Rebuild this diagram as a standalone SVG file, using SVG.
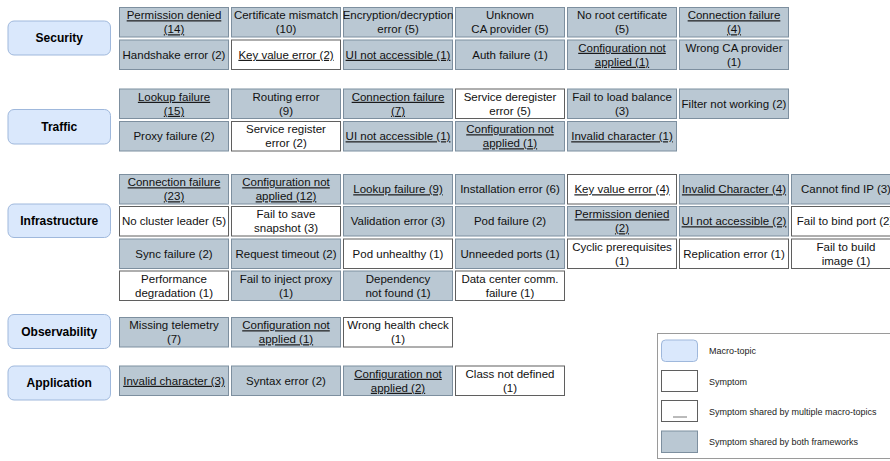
<svg xmlns="http://www.w3.org/2000/svg" width="890" height="461" viewBox="0 0 890 461">
  <style>
    .macro rect { fill: #dae8fc; stroke: #9fb8dc; stroke-width: 1; }
    .macro text { font-family: "Liberation Sans", Arial, sans-serif; font-size: 12px; font-weight: bold; text-anchor: middle; fill: #000; }
    .sym rect { stroke-width: 1; }
    .gray rect { fill: #bac8d3; stroke: #7d8f9f; }
    .white rect { fill: #ffffff; stroke: #5f5f5f; }
    .sym text { font-family: "Liberation Sans", Arial, sans-serif; font-size: 11.5px; text-anchor: middle; fill: #111; }
    .u { text-decoration: underline; }
    .legend text { font-family: "Liberation Sans", Arial, sans-serif; font-size: 9px; fill: #222; }
  </style>
  <rect width="890" height="461" fill="#ffffff"/>

  <!-- Macro-topics -->
  <g id="security" class="macro"><rect x="8" y="21" width="102.5" height="34" rx="6"/><text x="59.25" y="42.3">Security</text></g>
  <g id="traffic" class="macro"><rect x="8" y="109.5" width="102.5" height="34.5" rx="6"/><text x="59.25" y="131">Traffic</text></g>
  <g id="infrastructure" class="macro"><rect x="8" y="204" width="102.5" height="33.5" rx="6"/><text x="59.25" y="225">Infrastructure</text></g>
  <g id="observability" class="macro"><rect x="8" y="314.5" width="102.5" height="34" rx="6"/><text x="59.25" y="335.8">Observability</text></g>
  <g id="application" class="macro"><rect x="8" y="366" width="102.5" height="34" rx="6"/><text x="59.25" y="387.3">Application</text></g>

  <!-- Security symptoms -->
  <g id="sec-permission-denied" class="sym gray"><rect x="119.5" y="7.5" width="109" height="29.5"/><text class="u"><tspan x="174" y="19.3">Permission denied</tspan><tspan x="174" y="33.3">(14)</tspan></text></g>
  <g id="sec-certificate-mismatch" class="sym gray"><rect x="231.5" y="7.5" width="109" height="29.5"/><text><tspan x="286" y="19.3">Certificate mismatch</tspan><tspan x="286" y="33.3">(10)</tspan></text></g>
  <g id="sec-encryption-error" class="sym gray"><rect x="343.5" y="7.5" width="109" height="29.5"/><text><tspan x="398" y="19.3">Encryption/decryption</tspan><tspan x="398" y="33.3">error (5)</tspan></text></g>
  <g id="sec-unknown-ca" class="sym gray"><rect x="455.5" y="7.5" width="109" height="29.5"/><text><tspan x="510" y="19.3">Unknown</tspan><tspan x="510" y="33.3">CA provider (5)</tspan></text></g>
  <g id="sec-no-root-cert" class="sym gray"><rect x="567.5" y="7.5" width="109" height="29.5"/><text><tspan x="622" y="19.3">No root certificate</tspan><tspan x="622" y="33.3">(5)</tspan></text></g>
  <g id="sec-connection-failure" class="sym gray"><rect x="679.5" y="7.5" width="109" height="29.5"/><text class="u"><tspan x="734" y="19.3">Connection failure</tspan><tspan x="734" y="33.3">(4)</tspan></text></g>

  <g id="sec-handshake-error" class="sym gray"><rect x="119.5" y="40" width="109" height="29.5"/><text x="174" y="58.8">Handshake error (2)</text></g>
  <g id="sec-key-value-error" class="sym white"><rect x="231.5" y="40" width="109" height="29.5"/><text class="u" x="286" y="58.8">Key value error (2)</text></g>
  <g id="sec-ui-not-accessible" class="sym gray"><rect x="343.5" y="40" width="109" height="29.5"/><text class="u" x="398" y="58.8">UI not accessible (1)</text></g>
  <g id="sec-auth-failure" class="sym gray"><rect x="455.5" y="40" width="109" height="29.5"/><text x="510" y="58.8">Auth failure (1)</text></g>
  <g id="sec-config-not-applied" class="sym gray"><rect x="567.5" y="40" width="109" height="29.5"/><text class="u"><tspan x="622" y="51.8">Configuration not</tspan><tspan x="622" y="65.8">applied (1)</tspan></text></g>
  <g id="sec-wrong-ca" class="sym gray"><rect x="679.5" y="40" width="109" height="29.5"/><text><tspan x="734" y="51.8">Wrong CA provider</tspan><tspan x="734" y="65.8">(1)</tspan></text></g>

  <!-- Traffic symptoms -->
  <g id="tra-lookup-failure" class="sym gray"><rect x="119.5" y="89" width="109" height="29.5"/><text class="u"><tspan x="174" y="100.8">Lookup failure</tspan><tspan x="174" y="114.8">(15)</tspan></text></g>
  <g id="tra-routing-error" class="sym gray"><rect x="231.5" y="89" width="109" height="29.5"/><text><tspan x="286" y="100.8">Routing error</tspan><tspan x="286" y="114.8">(9)</tspan></text></g>
  <g id="tra-connection-failure" class="sym gray"><rect x="343.5" y="89" width="109" height="29.5"/><text class="u"><tspan x="398" y="100.8">Connection failure</tspan><tspan x="398" y="114.8">(7)</tspan></text></g>
  <g id="tra-service-deregister" class="sym white"><rect x="455.5" y="89" width="109" height="29.5"/><text><tspan x="510" y="100.8">Service deregister</tspan><tspan x="510" y="114.8">error (5)</tspan></text></g>
  <g id="tra-load-balance" class="sym gray"><rect x="567.5" y="89" width="109" height="29.5"/><text><tspan x="622" y="100.8">Fail to load balance</tspan><tspan x="622" y="114.8">(3)</tspan></text></g>
  <g id="tra-filter" class="sym gray"><rect x="679.5" y="89" width="109" height="29.5"/><text x="734" y="107.8">Filter not working (2)</text></g>

  <g id="tra-proxy-failure" class="sym gray"><rect x="119.5" y="121.5" width="109" height="29.5"/><text x="174" y="140.3">Proxy failure (2)</text></g>
  <g id="tra-service-register" class="sym white"><rect x="231.5" y="121.5" width="109" height="29.5"/><text><tspan x="286" y="133.3">Service register</tspan><tspan x="286" y="147.3">error (2)</tspan></text></g>
  <g id="tra-ui-not-accessible" class="sym gray"><rect x="343.5" y="121.5" width="109" height="29.5"/><text class="u" x="398" y="140.3">UI not accessible (1)</text></g>
  <g id="tra-config-not-applied" class="sym gray"><rect x="455.5" y="121.5" width="109" height="29.5"/><text class="u"><tspan x="510" y="133.3">Configuration not</tspan><tspan x="510" y="147.3">applied (1)</tspan></text></g>
  <g id="tra-invalid-character" class="sym gray"><rect x="567.5" y="121.5" width="109" height="29.5"/><text class="u" x="622" y="140.3">Invalid character (1)</text></g>

  <!-- Infrastructure symptoms -->
  <g id="inf-connection-failure" class="sym gray"><rect x="119.5" y="174.5" width="109" height="29.5"/><text class="u"><tspan x="174" y="186.3">Connection failure</tspan><tspan x="174" y="200.3">(23)</tspan></text></g>
  <g id="inf-config-not-applied" class="sym gray"><rect x="231.5" y="174.5" width="109" height="29.5"/><text class="u"><tspan x="286" y="186.3">Configuration not</tspan><tspan x="286" y="200.3">applied (12)</tspan></text></g>
  <g id="inf-lookup-failure" class="sym gray"><rect x="343.5" y="174.5" width="109" height="29.5"/><text class="u" x="398" y="193.3">Lookup failure (9)</text></g>
  <g id="inf-installation-error" class="sym gray"><rect x="455.5" y="174.5" width="109" height="29.5"/><text x="510" y="193.3">Installation error (6)</text></g>
  <g id="inf-key-value-error" class="sym white"><rect x="567.5" y="174.5" width="109" height="29.5"/><text class="u" x="622" y="193.3">Key value error (4)</text></g>
  <g id="inf-invalid-character" class="sym gray"><rect x="679.5" y="174.5" width="109" height="29.5"/><text class="u" x="734" y="193.3">Invalid Character (4)</text></g>
  <g id="inf-cannot-find-ip" class="sym gray"><rect x="791.5" y="174.5" width="109" height="29.5"/><text x="846" y="193.3">Cannot find IP (3)</text></g>

  <g id="inf-no-cluster-leader" class="sym white"><rect x="119.5" y="206.5" width="109" height="29.5"/><text x="174" y="225.3">No cluster leader (5)</text></g>
  <g id="inf-save-snapshot" class="sym white"><rect x="231.5" y="206.5" width="109" height="29.5"/><text><tspan x="286" y="218.3">Fail to save</tspan><tspan x="286" y="232.3">snapshot (3)</tspan></text></g>
  <g id="inf-validation-error" class="sym gray"><rect x="343.5" y="206.5" width="109" height="29.5"/><text x="398" y="225.3">Validation error (3)</text></g>
  <g id="inf-pod-failure" class="sym gray"><rect x="455.5" y="206.5" width="109" height="29.5"/><text x="510" y="225.3">Pod failure (2)</text></g>
  <g id="inf-permission-denied" class="sym gray"><rect x="567.5" y="206.5" width="109" height="29.5"/><text class="u"><tspan x="622" y="218.3">Permission denied</tspan><tspan x="622" y="232.3">(2)</tspan></text></g>
  <g id="inf-ui-not-accessible" class="sym gray"><rect x="679.5" y="206.5" width="109" height="29.5"/><text class="u" x="734" y="225.3">UI not accessible (2)</text></g>
  <g id="inf-bind-port" class="sym white"><rect x="791.5" y="206.5" width="109" height="29.5"/><text x="845" y="225.3">Fail to bind port (2)</text></g>

  <g id="inf-sync-failure" class="sym gray"><rect x="119.5" y="239" width="109" height="29.5"/><text x="174" y="257.8">Sync failure (2)</text></g>
  <g id="inf-request-timeout" class="sym gray"><rect x="231.5" y="239" width="109" height="29.5"/><text x="286" y="257.8">Request timeout (2)</text></g>
  <g id="inf-pod-unhealthy" class="sym white"><rect x="343.5" y="239" width="109" height="29.5"/><text x="398" y="257.8">Pod unhealthy (1)</text></g>
  <g id="inf-unneeded-ports" class="sym gray"><rect x="455.5" y="239" width="109" height="29.5"/><text x="510" y="257.8">Unneeded ports (1)</text></g>
  <g id="inf-cyclic-prereq" class="sym white"><rect x="567.5" y="239" width="109" height="29.5"/><text><tspan x="622" y="250.8">Cyclic prerequisites</tspan><tspan x="622" y="264.8">(1)</tspan></text></g>
  <g id="inf-replication-error" class="sym white"><rect x="679.5" y="239" width="109" height="29.5"/><text x="734" y="257.8">Replication error (1)</text></g>
  <g id="inf-build-image" class="sym white"><rect x="791.5" y="239" width="109" height="29.5"/><text><tspan x="846" y="250.8">Fail to build</tspan><tspan x="846" y="264.8">image (1)</tspan></text></g>

  <g id="inf-performance" class="sym white"><rect x="119.5" y="271" width="109" height="29.5"/><text><tspan x="174" y="282.8">Performance</tspan><tspan x="174" y="296.8">degradation (1)</tspan></text></g>
  <g id="inf-inject-proxy" class="sym gray"><rect x="231.5" y="271" width="109" height="29.5"/><text><tspan x="286" y="282.8">Fail to inject proxy</tspan><tspan x="286" y="296.8">(1)</tspan></text></g>
  <g id="inf-dependency" class="sym gray"><rect x="343.5" y="271" width="109" height="29.5"/><text><tspan x="398" y="282.8">Dependency</tspan><tspan x="398" y="296.8">not found (1)</tspan></text></g>
  <g id="inf-datacenter-comm" class="sym white"><rect x="455.5" y="271" width="109" height="29.5"/><text><tspan x="510" y="282.8">Data center comm.</tspan><tspan x="510" y="296.8">failure (1)</tspan></text></g>

  <!-- Observability symptoms -->
  <g id="obs-missing-telemetry" class="sym gray"><rect x="119.5" y="317.5" width="109" height="29.5"/><text><tspan x="174" y="329.3">Missing telemetry</tspan><tspan x="174" y="343.3">(7)</tspan></text></g>
  <g id="obs-config-not-applied" class="sym gray"><rect x="231.5" y="317.5" width="109" height="29.5"/><text class="u"><tspan x="286" y="329.3">Configuration not</tspan><tspan x="286" y="343.3">applied (1)</tspan></text></g>
  <g id="obs-health-check" class="sym white"><rect x="343.5" y="317.5" width="109" height="29.5"/><text><tspan x="398" y="329.3">Wrong health check</tspan><tspan x="398" y="343.3">(1)</tspan></text></g>

  <!-- Application symptoms -->
  <g id="app-invalid-character" class="sym gray"><rect x="119.5" y="366" width="109" height="29.5"/><text class="u" x="174" y="384.8">Invalid character (3)</text></g>
  <g id="app-syntax-error" class="sym gray"><rect x="231.5" y="366" width="109" height="29.5"/><text x="286" y="384.8">Syntax error (2)</text></g>
  <g id="app-config-not-applied" class="sym gray"><rect x="343.5" y="366" width="109" height="29.5"/><text class="u"><tspan x="398" y="377.8">Configuration not</tspan><tspan x="398" y="391.8">applied (2)</tspan></text></g>
  <g id="app-class-not-defined" class="sym white"><rect x="455.5" y="366" width="109" height="29.5"/><text><tspan x="510" y="377.8">Class not defined</tspan><tspan x="510" y="391.8">(1)</tspan></text></g>

  <!-- Connectors (none drawn) -->
  <g id="connectors"/>

  <!-- Legend -->
  <g id="legend" class="legend">
    <rect x="657.5" y="333.5" width="240" height="125" fill="#ffffff" stroke="#9a9a9a"/>
    <rect x="661.5" y="340" width="36" height="21.5" rx="4" fill="#dae8fc" stroke="#9fb8dc"/>
    <text x="709" y="354">Macro-topic</text>
    <rect x="661.5" y="370.5" width="36" height="21" fill="#ffffff" stroke="#5f5f5f"/>
    <text x="709" y="384.5">Symptom</text>
    <rect x="661.5" y="400.5" width="36" height="21" fill="#ffffff" stroke="#5f5f5f"/>
    <line x1="673" y1="417" x2="687" y2="417" stroke="#777" stroke-width="1"/>
    <text x="709" y="414.5">Symptom shared by multiple macro-topics</text>
    <rect x="661.5" y="431" width="36" height="21.5" fill="#bac8d3" stroke="#7d8f9f"/>
    <text x="709" y="445">Symptom shared by both frameworks</text>
  </g>
</svg>
